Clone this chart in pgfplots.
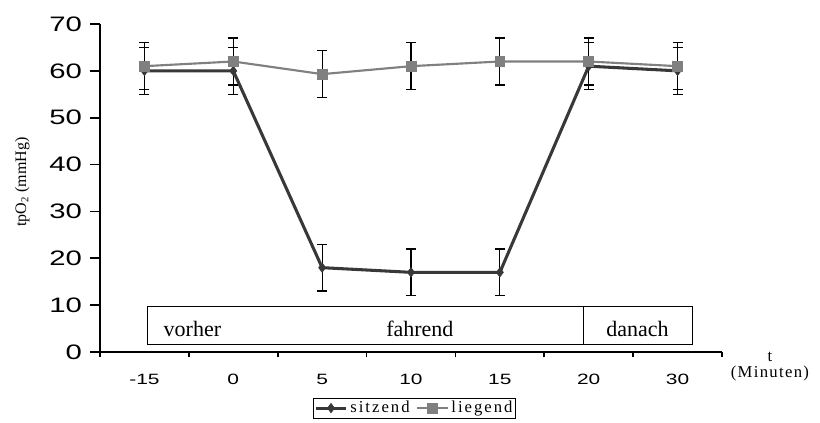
\documentclass[border=0pt]{standalone}
\usepackage{fontspec}
\setmainfont{Liberation Serif}
\newfontfamily\arial{Liberation Sans}
\usepackage{graphicx}
\usepackage{pgfplots}
\pgfplotsset{compat=1.18}
\definecolor{sitz}{HTML}{383838}
\definecolor{lieg}{HTML}{808080}
\begin{document}
\begin{tikzpicture}
\begin{axis}[
 width=466.5pt, height=246pt, scale only axis,
 xmin=-0.5, xmax=6.5, ymin=0, ymax=70,
 clip=false,
 axis lines*=left,
 axis line style={line width=1.3pt},
 xtick={-0.5,0.5,...,6.5},
 x tick label as interval,
 xticklabels={\scalebox{1.4}[1]{-15},\scalebox{1.4}[1]{0},\scalebox{1.4}[1]{5},\scalebox{1.4}[1]{10},\scalebox{1.4}[1]{15},\scalebox{1.4}[1]{20},\scalebox{1.4}[1]{30}},
 ytick={0,10,...,70},
 yticklabel={\scalebox{1.4}[1]{\pgfmathprintnumber{\tick}}},
 /pgf/number format/assume math mode=true,
 tick align=outside,
 tick style={black, line width=1.3pt},
 xtick style={/pgfplots/major tick length=4pt},
 ytick style={/pgfplots/major tick length=7.5pt},
 yticklabel style={font=\arial\fontsize{15.7}{16}\selectfont, anchor=east, inner sep=0pt, xshift=-9pt},
 xticklabel style={font=\arial\fontsize{11.2}{12}\selectfont, anchor=north, inner sep=0pt, yshift=-12pt},
 ylabel={tpO\textsubscript{2} (mmHg)},
 ylabel style={at={(rel axis cs:-0.125,0.518)}, anchor=center, font=\fontsize{12}{12}\selectfont},
 legend style={at={(rel axis cs:0.506,-0.171)}, anchor=center, legend columns=2, draw=black, line width=0.6pt,
   font=\addfontfeature{LetterSpace=12}\fontsize{12.5}{13}\selectfont, inner sep=0.5pt,
   /tikz/every even column/.append style={column sep=3pt}},
 legend image code/.code={\draw[mark repeat=2,mark phase=2] plot coordinates {(0cm,0cm)(0.4cm,0cm)(0.8cm,0cm)};},
 error bars/error bar style={black, line width=0.9pt},
 error bars/error mark options={rotate=90, mark size=3.75pt, black, line width=0.9pt},
]
\coordinate (bl) at (rel axis cs:0,0);
\addplot[color=sitz, line width=2.3pt, mark=diamond*, mark size=3.5pt, mark options={fill=sitz, draw=sitz, line width=0.5pt},
  error bars/.cd, y dir=both, y explicit]
 coordinates {(0,60)+-(0,5) (1,60)+-(0,5) (2,18)+-(0,5) (3,17)+-(0,5) (4,17)+-(0,5) (5,61)+-(0,5) (6,60)+-(0,5)};
\addlegendentry{sitzend}
\addplot[color=lieg, line width=1.6pt, mark=square*, mark size=3.7pt, mark options={fill=lieg, draw=lieg, line width=0.5pt},
  error bars/.cd, y dir=both, y explicit]
 coordinates {(0,61)+-(0,5) (1,62)+-(0,5) (2,59.3)+-(0,5) (3,61)+-(0,5) (4,62)+-(0,5) (5,62)+-(0,5) (6,61)+-(0,5)};
\addlegendentry{liegend}
\draw[line width=0.75pt, fill=white] (axis cs:0.03,1.7) rectangle (axis cs:6.17,9.8);
\draw[line width=0.75pt] (axis cs:4.94,1.7) -- (axis cs:4.94,9.8);
\node[anchor=base, font=\fontsize{16.5}{18}\selectfont] at (axis cs:0.54,3.27) {vorher};
\node[anchor=base, font=\fontsize{16.5}{18}\selectfont] at (axis cs:3.1,3.27) {fahrend};
\node[anchor=base, font=\fontsize{16.5}{18}\selectfont] at (axis cs:5.55,3.27) {danach};
\node[align=center, inner sep=0pt, font=\addfontfeature{LetterSpace=8}\fontsize{12.5}{12}\selectfont] at (rel axis cs:1.077,-0.045) {t\\(Minuten)};
\end{axis}
\pgfresetboundingbox
\path (bl) ++(-75pt,-52.5pt) rectangle ++(615pt,316.5pt);
\end{tikzpicture}
\end{document}
